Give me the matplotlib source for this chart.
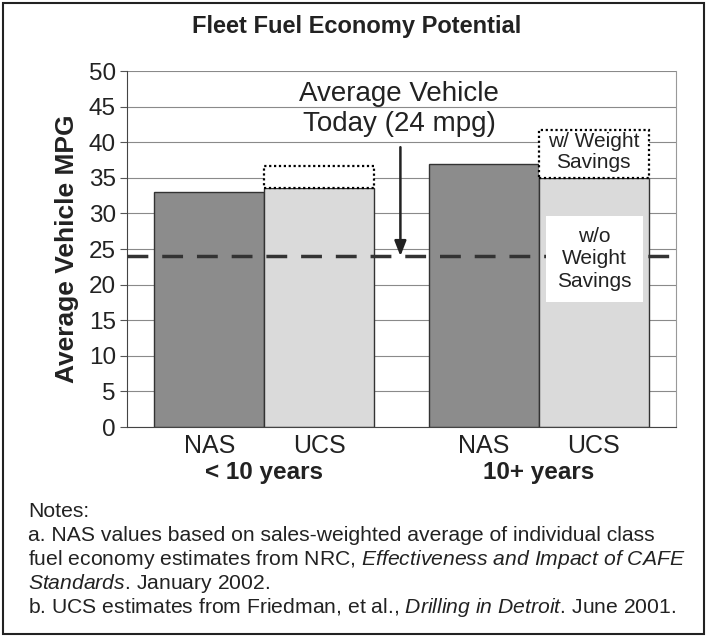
import matplotlib
matplotlib.use("Agg")
import matplotlib.pyplot as plt
import matplotlib.transforms as mtransforms
from matplotlib.patches import Rectangle

plt.rcParams['font.family'] = ['Liberation Sans', 'DejaVu Sans']
plt.rcParams['mathtext.fontset'] = 'custom'
plt.rcParams['mathtext.rm'] = 'Liberation Sans'
plt.rcParams['mathtext.it'] = 'Liberation Sans:italic'

# data
bar_labels = ["NAS", "UCS", "NAS", "UCS"]
groups = ["< 10 years", "10+ years"]
base_mpg = [33.0, 33.5, 37.0, 35.0]          # w/o weight savings
with_weight_mpg = [None, 36.7, None, 41.7]   # w/ weight savings (UCS only)
today_mpg = 24

positions = [0, 1, 2.5, 3.5]
colors = ["#8c8c8c", "#dadada", "#8c8c8c", "#dadada"]

W, H = 707, 637
fig = plt.figure(figsize=(W / 100, H / 100), dpi=100)
ax = fig.add_axes([127 / W, 1 - 427 / H, 549 / W, 356 / H])

# grid
ax.set_axisbelow(True)
ax.yaxis.grid(True, color="#8a8a8a", lw=0.8)

for x, v, c in zip(positions, base_mpg, colors):
    ax.bar(x, v, width=1.0, color=c, edgecolor="#333333", lw=1.0, zorder=2)

for x, b, v in zip(positions, base_mpg, with_weight_mpg):
    if v is None:
        continue
    ax.bar(x, v - b, bottom=b, width=1.0, color="white", edgecolor="black",
           lw=1.6, linestyle=(0, (1, 1.2)), zorder=3)

# today's average
ax.axhline(today_mpg, color="#333333", lw=2.5, dashes=(6, 4), zorder=4)
ax.annotate("", xy=(1.74, today_mpg), xytext=(1.74, 39.3),
            arrowprops=dict(arrowstyle="-|>,head_width=0.35,head_length=0.9",
                            color="#222222", lw=1.8, shrinkA=0, shrinkB=0),
            zorder=5)
ax.text(1.73, 44.6, "Average Vehicle\nToday (24 mpg)", ha="center", va="center",
        fontsize=20, linespacing=1.2, color="#222222", zorder=5)

# labels on the UCS 10+ bar
ax.text(3.5, 38.6, "w/ Weight\nSavings", ha="center", va="center", fontsize=15,
        linespacing=1.15, color="#222222", zorder=5)
ax.text(3.51, 23.6, "w/o\nWeight\nSavings", ha="center", va="center", fontsize=15,
        linespacing=1.25, color="#222222", zorder=5,
        bbox=dict(facecolor="white", edgecolor="none", pad=8.0))

ax.set_xlim(-0.75, 4.25)
ax.set_ylim(0, 50)
ax.set_yticks(range(0, 51, 5))
ax.set_xticks(positions)
ax.set_xticklabels(bar_labels, fontsize=18, color="#222222")
ax.tick_params(axis="x", length=0, pad=5)
ax.tick_params(axis="y", labelsize=17.5, labelcolor="#222222", length=5,
               color="#555555", pad=3)
ax.set_ylabel("Average Vehicle MPG", fontsize=19, fontweight="bold",
              color="#222222", labelpad=7)

ax.spines["left"].set_color("#444444")
ax.spines["bottom"].set_color("#444444")
ax.spines["top"].set_visible(False)
ax.spines["right"].set_color("#999999")
ax.spines["right"].set_linestyle((0, (1, 1)))

group_x = [0.5, 3.0]
tr = mtransforms.blended_transform_factory(ax.transData, fig.transFigure)
for gx, g in zip(group_x, groups):
    ax.text(gx, 1 - 472 / H, g, transform=tr, ha="center", va="center",
            fontsize=17.5, fontweight="bold", color="#222222")

fig.text(357 / W, 1 - 27 / H, "Fleet Fuel Economy Potential", ha="center",
         va="center", fontsize=17, fontweight="bold", color="#222222")

notes = [
    "Notes:",
    "a. NAS values based on sales-weighted average of individual class",
    r"fuel economy estimates from NRC, $\mathit{Effectiveness\ and\ Impact\ of\ CAFE}$",
    r"$\mathit{Standards}$. January 2002.",
    r"b. UCS estimates from Friedman, et al., $\mathit{Drilling\ in\ Detroit}$. June 2001.",
]
note_baseline = [517, 541, 565, 589, 613]
for t, y in zip(notes, note_baseline):
    fig.text(28 / W, 1 - y / H, t, ha="left", va="baseline", fontsize=15.2,
             color="#222222")

fig.patches.append(Rectangle((3 / W, 3 / H), 701 / W, 631 / H, transform=fig.transFigure,
                             fill=False, edgecolor="#222222", lw=1.5))

fig.savefig("out.png", dpi=100, facecolor="white")
